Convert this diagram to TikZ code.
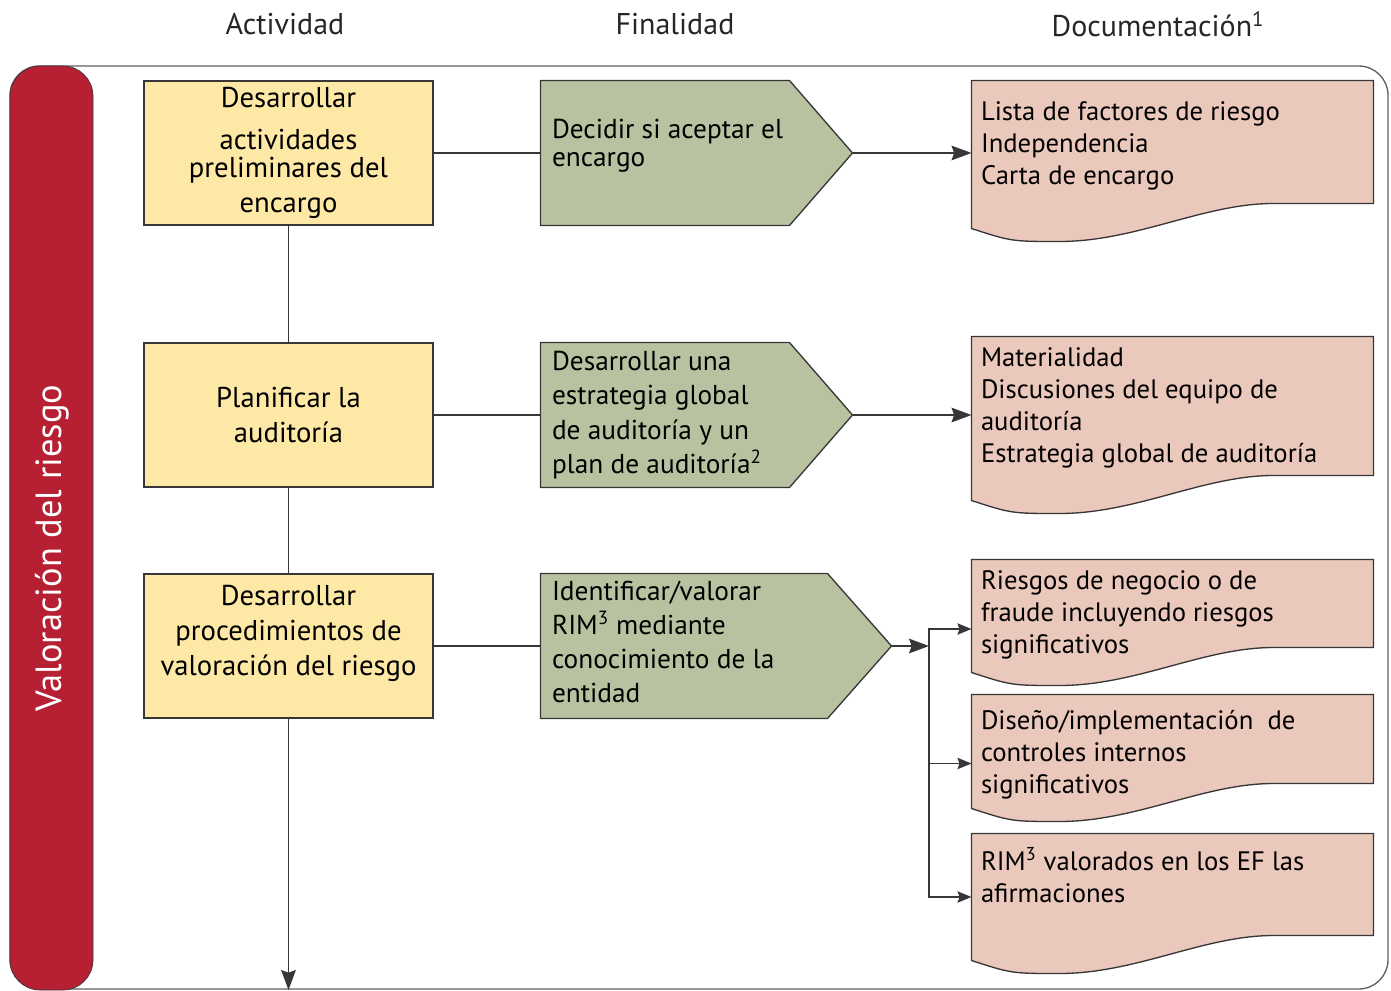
\documentclass[tikz,border=0pt]{standalone}
\usepackage{fontspec}
\setmainfont{PT Sans}
\usetikzlibrary{calc,arrows.meta}

\definecolor{valred}{RGB}{183,31,51}
\definecolor{actyellow}{RGB}{253,232,165}
\definecolor{fingreen}{RGB}{184,194,160}
\definecolor{docpink}{RGB}{235,200,188}
\definecolor{edgegray}{RGB}{55,55,55}

\tikzset{every picture/.style={line width=0.75pt}}
\tikzset{
  actbox/.style={draw=edgegray, fill=actyellow, line width=1pt, minimum width=216.75pt, minimum height=108pt, inner sep=0pt, align=center, font=\fontsize{21.5}{26.25}\selectfont},
  finbody/.style={minimum width=#1, minimum height=108pt, inner sep=0pt},
  finfill/.style={draw=edgegray, fill=fingreen, line width=1pt},
  fintext/.style={anchor=west, align=left, inner sep=0pt, font=\fontsize{20.5}{25.7}\selectfont},
  docbody/.style={minimum width=300.75pt, minimum height=#1, inner sep=0pt},
  docfill/.style={draw=edgegray, fill=docpink, line width=1pt},
  doctext/.style={anchor=north west, align=left, inner sep=0pt, font=\fontsize{20}{24}\selectfont},
  heading/.style={text=black!85, font=\fontsize{22.5}{26}\selectfont},
  link/.style={draw=edgegray, line width=1.1pt},
  linkbig/.style={link, -{Stealth[length=15pt,width=11pt,inset=2pt]}},
  linksmall/.style={link, -{Stealth[length=10.5pt,width=8.5pt,inset=1.5pt]}}
}

% pentagon of a Finalidad box, tip named <box>tip
\newcommand{\finshape}[2]{%
  \draw[finfill] (#1.north west) -- (#1.north east) -- ($(#1.east)+(#2,0)$) coordinate (#1tip) -- (#1.south east) -- (#1.south west) -- cycle;}
% document shape with wavy bottom
\newcommand{\docshape}[1]{%
  \draw[docfill] (#1.north west) -- (#1.north east) -- ($(#1.south east)+(0,-25)$) -- ++(-100,0) .. controls ++(-70,0) and ($(#1.south west)+(165,13)$) .. ($(#1.south west)+(88,13)$) .. controls ($(#1.south west)+(40,13)$) .. (#1.south west) -- cycle;}

\begin{document}
\begin{tikzpicture}[x=0.75pt,y=0.75pt,yscale=-1,xscale=1]
\useasboundingbox (0,0) rectangle (1391,991);

%Shape: Frame
\draw [draw=gray!75!black, line width=1pt, rounded corners=22pt] (10,66) rectangle (1388,989);
%Shape: Red bar
\draw [draw=edgegray, fill=valred, line width=0.5pt, rounded corners=22.5pt] (10,66) rectangle (93,990);
% Text Node
\node [rotate=90, text=white, font=\fontsize{27.3}{30}\selectfont] (vr) at (52,548) {Valoración del riesgo};

% Text Node
\node [heading] (h1) at (285,24) {Actividad};
% Text Node
\node [heading] (h2) at (675,24) {Finalidad};
% Text Node
\node [heading] (h3) at (1158,24) {Documentación\textsuperscript{1}};

%Shape: Actividad boxes
\node [actbox] (a1) at (288.5,153) {Desarrollar\\[5pt]actividades\\[-5pt]preliminares del\\encargo};
\node [actbox] (a2) at (288.5,415) {Planificar la\\auditoría};
\node [actbox, text depth=24pt] (a3) at (288.5,646) {Desarrollar\\procedimientos de\\valoración del riesgo};

%Shape: Finalidad boxes
\node [finbody=186pt] (f1) at (665,153) {};
\finshape{f1}{63}
\node [fintext] (f1t) at ($(f1.west)+(11,-7)$) {Decidir si aceptar el\\[-4.5pt]encargo};
\node [finbody=186pt] (f2) at (665,415) {};
\finshape{f2}{63}
\node [fintext] (f2t) at ($(f2.west)+(11,0)$) {Desarrollar una\\estrategia global\\de auditoría y un\\plan de auditoría\textsuperscript{2}};
\node [finbody=214.5pt] (f3) at (684,646) {};
\finshape{f3}{64}
\node [fintext] (f3t) at ($(f3.west)+(11,-4)$) {Identificar/valorar\\RIM\textsuperscript{3} mediante\\conocimiento de la\\entidad};

%Shape: Documentacion boxes
\node [docbody=110.25pt] (d1) at (1172.5,154.5) {};
\docshape{d1}
\node [doctext] (d1t) at ($(d1.north west)+(9,21)$) {Lista de factores de riesgo\\Independencia\\Carta de encargo};
\node [docbody=122.25pt] (d2) at (1172.5,418.5) {};
\docshape{d2}
\node [doctext] (d2t) at ($(d2.north west)+(9,11)$) {Materialidad\\Discusiones del equipo de\\auditoría\\Estrategia global de auditoría};
\node [docbody=84pt] (d3) at (1172.5,616) {};
\docshape{d3}
\node [doctext] (d3t) at ($(d3.north west)+(9,11)$) {Riesgos de negocio o de\\fraude incluyendo riesgos\\significativos};
\node [docbody=84.75pt] (d4) at (1172.5,751.5) {};
\docshape{d4}
\node [doctext] (d4t) at ($(d4.north west)+(9,15)$) {Diseño/implementación\ \ de\\controles internos\\significativos};
\node [docbody=94.5pt] (d5) at (1172.5,897) {};
\docshape{d5}
\node [doctext] (d5t) at ($(d5.north west)+(9,13)$) {RIM\textsuperscript{3} valorados en los EF las\\afirmaciones};

%Straight Lines
\coordinate (aend) at (288.5,990);
\coordinate (j) at (929,646);
\draw [link] (a1.south) -- (a2.north);
\draw [link] (a2.south) -- (a3.north);
\draw [linkbig] (a3.south) -- (aend);
\draw [link] (a1.east) -- (f1.west);
\draw [link] (a2.east) -- (f2.west);
\draw [link] (a3.east) -- (f3.west);
\draw [linkbig] (f1tip) -- (f1tip -| d1.west);
\draw [linkbig] (f2tip) -- (f2tip -| d2.west);
\draw [linkbig] (f3tip) -- (j);
\draw [linksmall] (j) |- ([yshift=9.75pt]d3.west);
\draw [linksmall] (j) |- ([yshift=9pt]d4.west);
\draw [linksmall] (j) |- (d5.west);

\end{tikzpicture}
\end{document}
